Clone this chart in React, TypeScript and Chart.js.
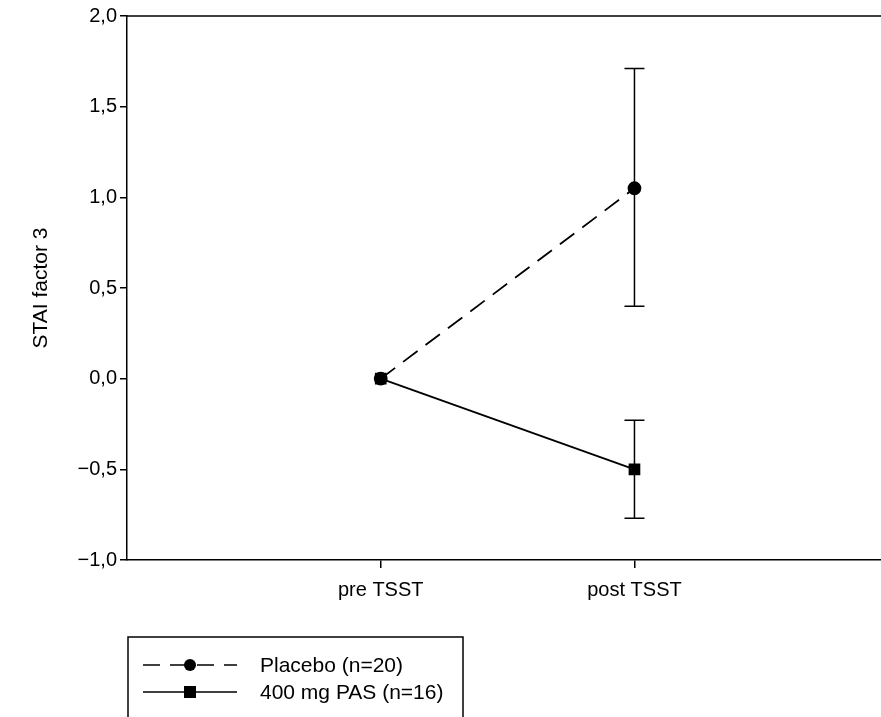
import React, { useEffect, useRef } from "react";
import { Chart, registerables } from "chart.js";
Chart.register(...registerables);

const categories = ["pre TSST", "post TSST"];
const placeboMean = [0, 1.05];
const placeboLow = [0, 0.4];
const placeboHigh = [0, 1.71];
const pasMean = [0, -0.5];
const pasLow = [0, -0.77];
const pasHigh = [0, -0.23];
const yTicks = [-1, -0.5, 0, 0.5, 1, 1.5, 2];
const legendLabels = ["Placebo (n=20)", "400 mg PAS (n=16)"];

const fmt = (v: number) => (v < 0 ? "\u2212" : "") + Math.abs(v).toFixed(1).replace(".", ",");
const FAM = "'Liberation Sans', Arial, sans-serif";

export default function App() {
  const ref = useRef<HTMLCanvasElement>(null);
  useEffect(() => {
    const errPlugin = {
      id: "extras",
      afterDatasetsDraw(chart: any) {
        const ctx = chart.ctx;
        const xs = chart.scales.x, ys = chart.scales.y;
        ctx.save();
        ctx.strokeStyle = "#000";
        ctx.lineWidth = 1.5;
        const bars = [[placeboLow, placeboHigh], [pasLow, pasHigh]];
        bars.forEach(([lo, hi]) => {
          lo.forEach((l, i) => {
            if (l === hi[i]) return;
            const x = xs.getPixelForValue(i + 1);
            const y1 = ys.getPixelForValue(l), y2 = ys.getPixelForValue(hi[i]);
            ctx.beginPath();
            ctx.moveTo(x, y1); ctx.lineTo(x, y2);
            ctx.moveTo(x - 10, y1); ctx.lineTo(x + 10, y1);
            ctx.moveTo(x - 10, y2); ctx.lineTo(x + 10, y2);
            ctx.stroke();
          });
        });
        const a = chart.chartArea;
        ctx.beginPath();
        ctx.moveTo(a.left, a.top); ctx.lineTo(a.right, a.top);
        ctx.stroke();
        ctx.strokeRect(128, 637, 335, 100);
        ctx.font = "21px " + FAM;
        ctx.fillStyle = "#000";
        ctx.textBaseline = "middle";
        const rows = [665, 692];
        rows.forEach((y, k) => {
          ctx.beginPath();
          ctx.setLineDash(k === 0 ? [17, 10] : []);
          ctx.moveTo(143, y); ctx.lineTo(237, y);
          ctx.stroke();
          ctx.setLineDash([]);
          if (k === 0) { ctx.beginPath(); ctx.arc(190, y, 6, 0, Math.PI * 2); ctx.fill(); }
          else ctx.fillRect(184, y - 6, 12, 12);
          ctx.fillText(legendLabels[k], 260, y + 1);
        });
        ctx.restore();
      },
    };
    const chart = new Chart(ref.current!, {
      type: "line",
      data: {
        datasets: [
          {
            label: legendLabels[0],
            data: placeboMean.map((v, i) => ({ x: i + 1, y: v })),
            borderColor: "#000", backgroundColor: "#000", borderWidth: 1.8,
            borderDash: [18, 10], pointStyle: "circle", pointRadius: 6,
          },
          {
            label: legendLabels[1],
            data: pasMean.map((v, i) => ({ x: i + 1, y: v })),
            borderColor: "#000", backgroundColor: "#000", borderWidth: 1.8,
            pointStyle: "rect", pointRadius: 7,
          },
        ],
      },
      options: {
        animation: false, responsive: false,
        layout: { padding: { top: 16, right: 0, left: 0, bottom: 0 } },
        plugins: { legend: { display: false }, tooltip: { enabled: false } },
        scales: {
          x: {
            type: "linear", min: 0, max: 3,
            afterBuildTicks: (s: any) => { s.ticks = categories.map((_, i) => ({ value: i + 1 })); },
            afterFit: (s: any) => { s.height = 157; },
            ticks: { callback: (v: any) => categories[Number(v) - 1] ?? "", color: "#000", font: { size: 20, family: FAM }, padding: 10 },
            grid: { drawOnChartArea: false, drawTicks: true, tickLength: 8, color: "#000", lineWidth: 1.5 },
            border: { color: "#000", width: 1.5 },
          },
          y: {
            min: -1, max: 2,
            afterBuildTicks: (s: any) => { s.ticks = yTicks.map((v) => ({ value: v })); },
            afterFit: (s: any) => { s.width = 127; },
            ticks: { callback: (v: any) => fmt(Number(v)), color: "#000", font: { size: 20, family: FAM }, padding: 3 },
            grid: { drawOnChartArea: false, drawTicks: true, tickLength: 7, color: "#000", lineWidth: 1.5 },
            border: { color: "#000", width: 1.5 },
            title: { display: true, text: "STAI factor 3", color: "#000", font: { size: 21, family: FAM }, padding: { top: 29, bottom: 4 } },
          },
        },
      },
      plugins: [errPlugin],
    } as any);
    return () => chart.destroy();
  }, []);
  return (
    <div style={{ position: "fixed", left: 0, top: 0, width: 881, height: 717, overflow: "hidden" }}>
      <canvas ref={ref} width={897} height={717} />
    </div>
  );
}
